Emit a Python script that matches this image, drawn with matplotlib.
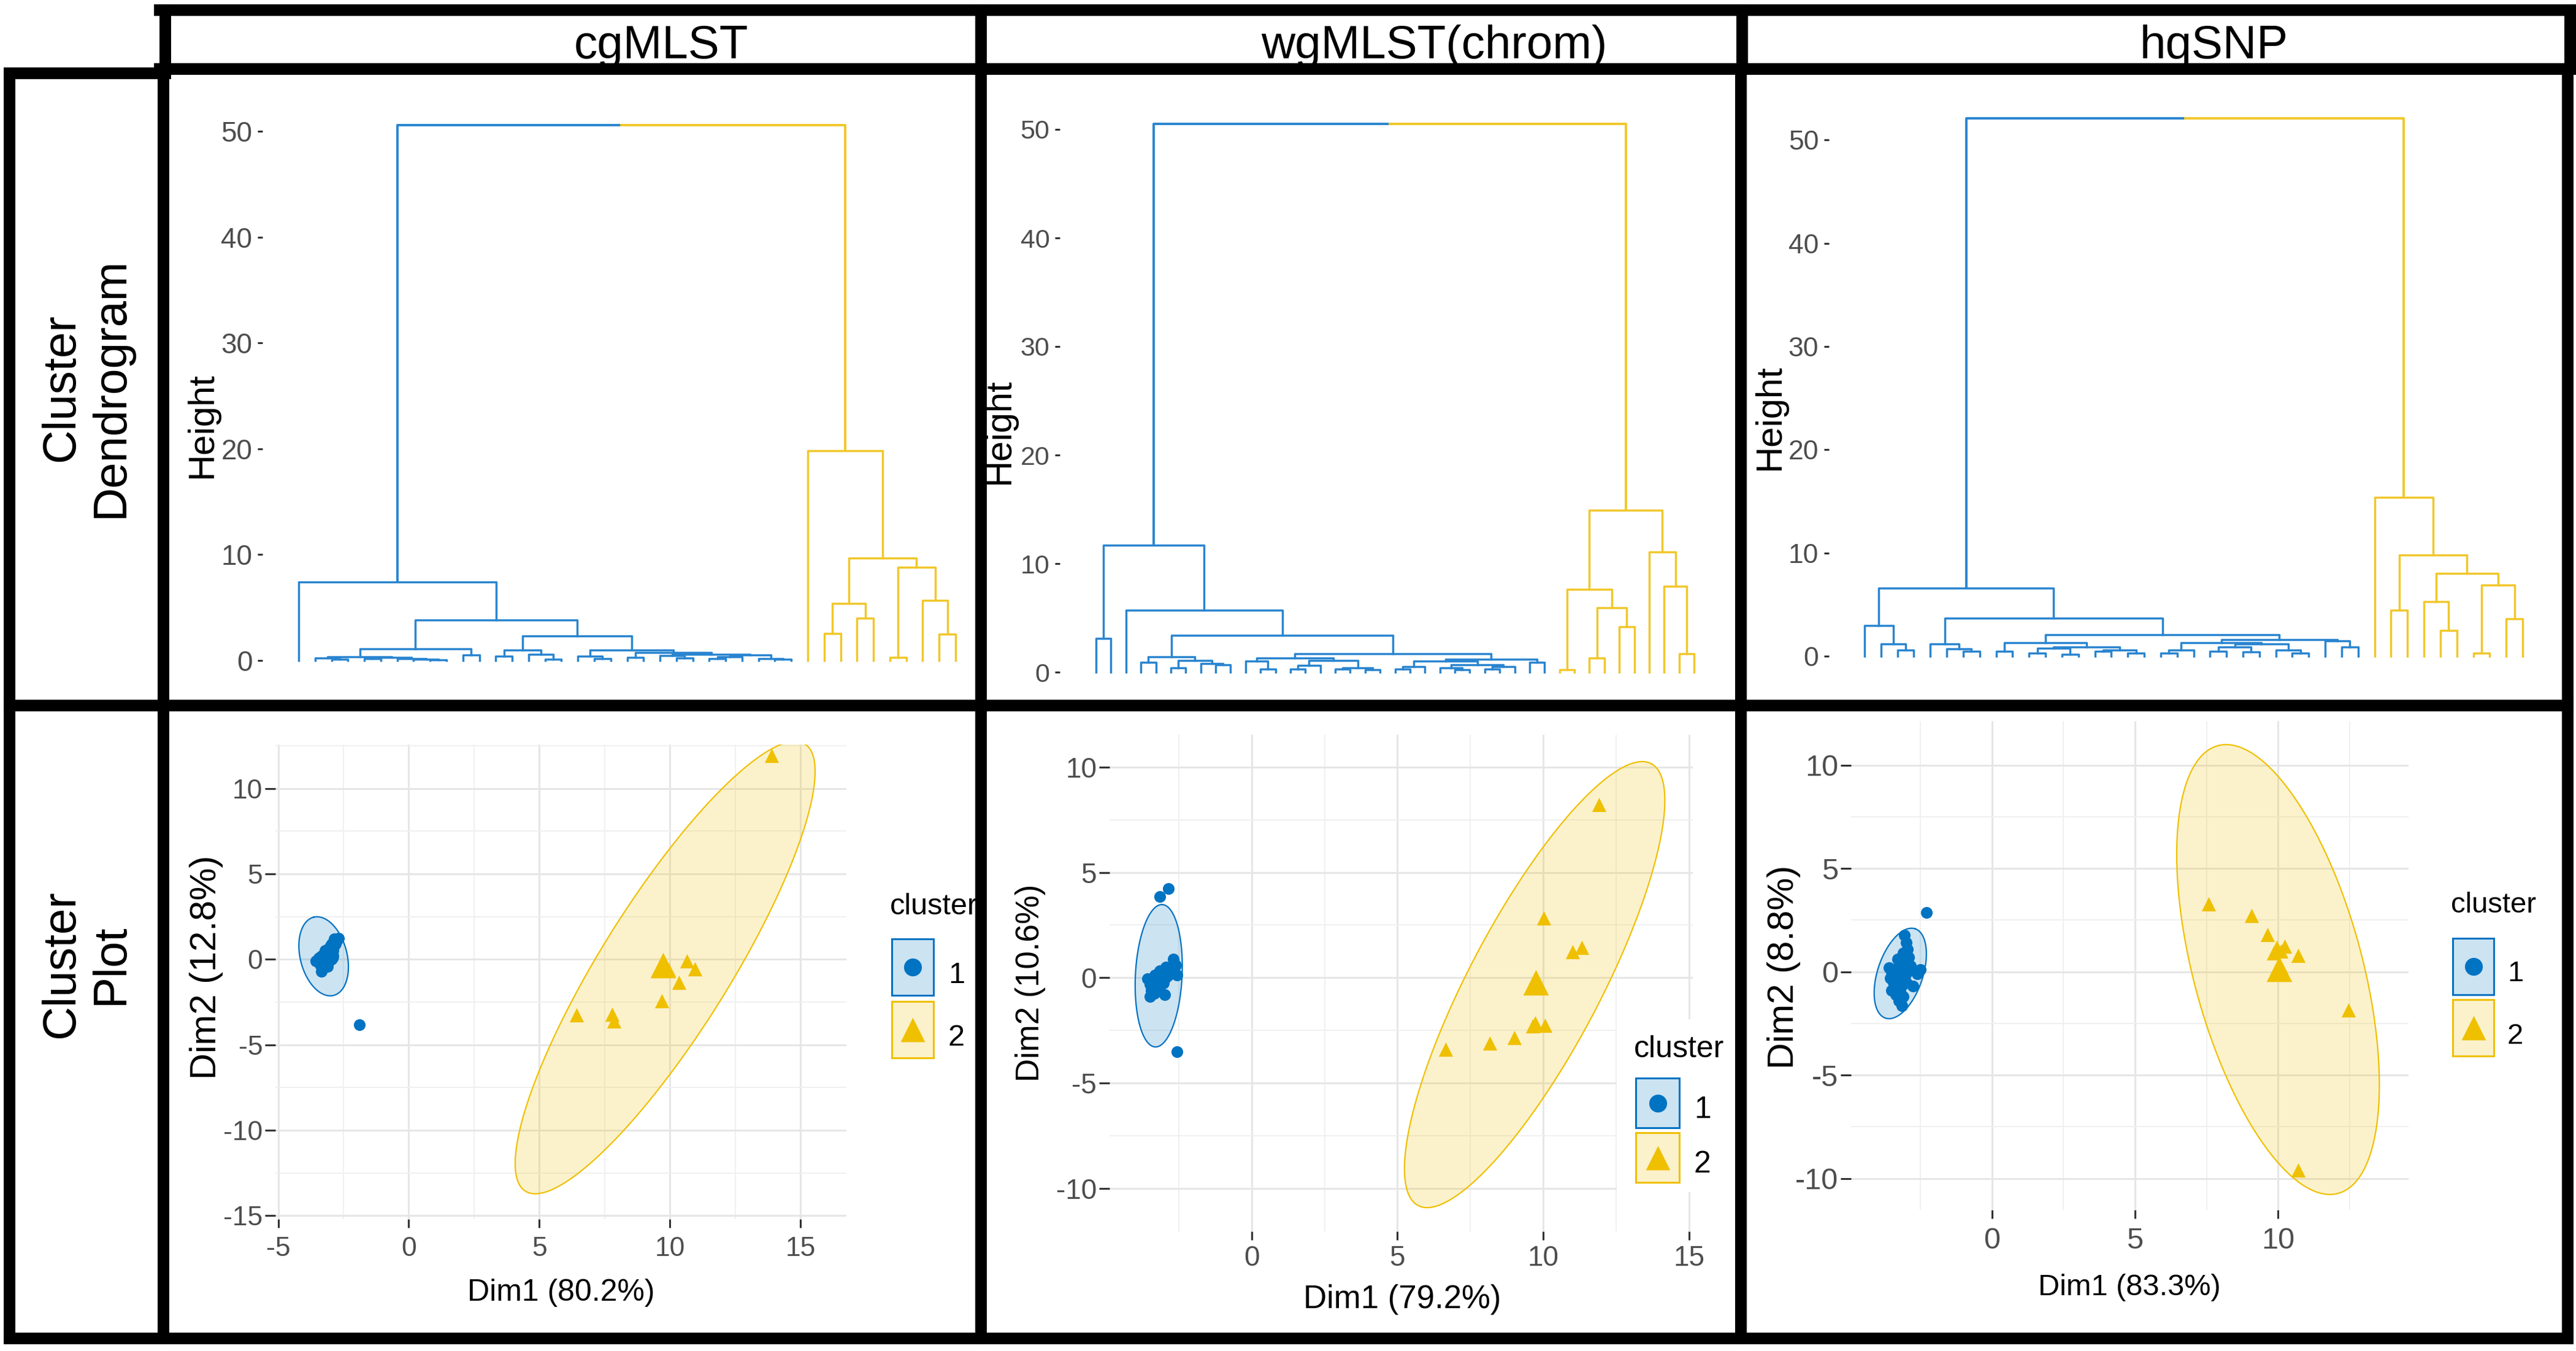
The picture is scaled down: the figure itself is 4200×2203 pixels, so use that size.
import numpy as np
import matplotlib.pyplot as plt
from matplotlib.patches import Rectangle

plt.rcParams['font.family'] = ['Liberation Sans', 'DejaVu Sans']
plt.rcParams['axes.unicode_minus'] = False

W, H = 4200, 2203
BLUE = '#0073C2'
YELLOW = '#EFC000'
DBLUE = '#2A85D0'
DYELLOW = '#F1C72A'
GREY = '#4D4D4D'

methods = ['cgMLST', 'wgMLST(chrom)', 'hqSNP']
row_labels = ['Cluster\nDendrogram', 'Cluster\nPlot']
dim1_pct = ['80.2', '79.2', '83.3']
dim2_pct = ['12.8', '10.6', '8.8']

# dendrograms: [height, left, right], 0 = leaf
cg_root = 50.6
cg_blue = [7.4, 0,
           [3.8,
            [1.1,
             [0.35, [0.25, 0, [0.1, 0, 0]],
              [0.3, [0.15, 0, 0], [0.2, 0, [0.1, 0, [0.05, 0, 0]]]]],
             [0.5, 0, 0]],
            [2.3,
             [1.0, [0.4, 0, 0], [0.6, 0, [0.1, 0, 0]]],
             [1.0, [0.4, 0, [0.2, 0, 0]],
              [0.75, [0.3, 0, 0],
               [0.6, [0.45, 0, [0.25, 0, 0]],
                [0.5, [0.35, [0.2, 0, 0], 0], [0.2, 0, [0.1, 0, 0]]]]]]]]]
cg_yellow = [19.8, 0,
             [9.7, [5.4, [2.55, 0, 0], [4.0, 0, 0]],
              [8.8, [0.3, 0, 0], [5.7, 0, [2.5, 0, 0]]]]]

wg_root = 50.5
wg_blue = [11.7, [3.1, 0, 0],
           [5.7, 0,
            [3.4,
             [1.4, [0.9, 0, 0], [1.1, [0.4, 0, 0], [0.8, 0, [0.7, 0, 0]]]],
             [1.7,
              [1.3, [1.0, 0, [0.3, 0, 0]],
               [1.1, [0.6, [0.3, 0, 0], 0], [0.4, [0.3, 0, 0], [0.2, 0, 0]]]],
              [1.2,
               [1.0, [0.5, [0.3, 0, 0], 0],
                [0.7, [0.4, 0, [0.2, 0, 0]], [0.5, [0.3, 0, 0], 0]]],
               [0.9, 0, 0]]]]]]
wg_yellow = [14.9,
             [7.65, [0.2, 0, 0], [5.96, [1.3, 0, 0], [4.2, 0, 0]]],
             [11.1, 0, [7.9, 0, [1.7, 0, 0]]]]

hq_root = 52.1
hq_blue = [6.6,
           [3.0, 0, [1.2, 0, [0.6, 0, 0]]],
           [3.7,
            [1.2, 0, [0.7, 0, [0.5, 0, 0]]],
            [2.1,
             [1.3, [0.5, 0, 0],
              [0.9, [0.8, [0.3, 0, 0], [0.2, 0, 0]], [0.6, [0.5, 0, 0], [0.3, 0, 0]]]],
             [1.6,
              [1.3, [0.6, [0.3, 0, 0], 0],
               [1.2, [0.9, [0.5, 0, 0], [0.4, 0, 0]], [0.6, 0, [0.3, 0, 0]]]],
              [1.5, 0, [0.9, 0, 0]]]]]]
hq_yellow = [15.4, 0,
             [9.8, [4.45, 0, 0],
              [8.0, [5.3, 0, [2.5, 0, 0]], [6.9, [0.3, 0, 0], [3.6, 0, 0]]]]]

# cluster plots
cg_x1 = [-3.55, -3.45, -3.40, -3.35, -3.35, -3.25, -3.20, -3.20, -3.15, -3.10, -3.10,
         -3.05, -3.00, -3.00, -2.95, -2.90, -2.90, -2.85, -2.80, -2.75, -2.70, -3.35,
         -3.30, -3.30, -3.00, -2.95, -3.20, -3.10, -3.05, -2.85, -1.90]
cg_y1 = [-0.10, 0.10, -0.30, 0.00, -0.70, 0.30, -0.20, 0.50, 0.20, 0.60, -0.40,
         0.40, 0.80, 0.10, 0.70, 1.00, 0.50, 1.20, 0.90, 1.10, 1.25, 0.20,
         -0.10, -0.55, 0.30, 0.90, 0.00, 0.20, 0.60, 0.80, -3.82]
cg_x2 = [13.90, 10.66, 10.97, 10.35, 9.68, 6.43, 7.80, 7.85, 9.70, 9.95]
cg_y2 = [11.93, -0.09, -0.55, -1.35, -2.43, -3.25, -3.20, -3.60, -0.20, -0.60]

wg_x1 = [-3.57, -3.49, -3.41, -3.32, -3.24, -3.15, -3.07, -2.99, -2.94, -2.82, -2.70,
         -2.60, -2.57, -3.50, -3.45, -3.38, -3.30, -3.20, -3.12, -3.05, -2.98, -2.90,
         -2.78, -2.66, -3.35, -3.18, -3.02, -2.88, -3.15, -2.85, -2.57]
wg_y1 = [-0.06, -0.89, -0.43, 0.13, -0.15, 0.32, 0.04, -0.80, 0.50, 0.22, 0.87,
         0.59, 0.13, -0.30, -0.60, -0.10, -0.35, 0.15, -0.20, 0.25, 0.05, 0.35,
         0.45, 0.70, -0.75, -0.50, -0.25, 0.10, 3.84, 4.22, -3.53]
wg_x2 = [11.91, 10.02, 11.02, 11.33, 9.73, 10.07, 9.01, 8.17, 6.66, 9.65]
wg_y2 = [8.21, 2.82, 1.24, 1.43, -2.14, -2.28, -2.84, -3.12, -3.40, -2.30]

hq_x1 = [-3.05, -3.00, -2.95, -3.10, -2.90, -3.30, -3.20, -3.60, -3.50, -3.40, -3.25,
         -3.15, -3.05, -2.95, -2.85, -2.49, -2.60, -3.55, -3.45, -3.35, -3.20, -3.10,
         -3.00, -3.50, -3.35, -3.20, -3.25, -3.10, -3.15, -2.75, -2.28]
hq_y1 = [1.76, 1.40, 1.10, 0.90, 0.70, 0.60, 0.40, 0.20, 0.00, 0.10, 0.20,
         0.00, -0.10, 0.20, 0.30, 0.11, -0.10, -0.30, -0.50, -0.40, -0.30, -0.60,
         -0.50, -0.90, -1.10, -0.90, -1.40, -1.20, -1.65, -0.70, 2.86]
hq_x2 = [7.58, 9.08, 9.64, 9.96, 10.24, 10.71, 12.45, 10.71, 10.10, 9.85]
hq_y2 = [3.27, 2.71, 1.80, 1.19, 1.23, 0.78, -1.84, -9.59, 1.00, 0.90]

# ellipses: centre, first and second conjugate semi-axis
cg_ell1 = [(-3.26, 0.18), (-0.38, 2.29), (0.87, 0.33)]
cg_ell2 = [(9.82, -0.48), (5.35, 13.09), (2.09, -1.99)]
wg_ell1 = [(-3.19, 0.09), (0.12, 3.38), (0.80, -0.05)]
wg_ell2 = [(9.71, -0.33), (4.00, 10.49), (1.99, -1.45)]
hq_ell1 = [(-3.20, -0.08), (0.52, 2.16), (0.75, -0.35)]
hq_ell2 = [(10.00, 0.11), (-2.10, 10.83), (2.85, 1.06)]

fig = plt.figure(figsize=(W / 100, H / 100), dpi=100)


def place(ax, box, xmap, ymap):
    left, right, top, bottom = box
    ax.set_position([left / W, 1 - bottom / H, (right - left) / W, (bottom - top) / H])
    (pa, va), (pb, vb) = xmap
    s = (vb - va) / (pb - pa)
    ax.set_xlim(va + (left - pa) * s, va + (right - pa) * s)
    (pa, va), (pb, vb) = ymap
    s = (vb - va) / (pb - pa)
    ax.set_ylim(va + (bottom - pa) * s, va + (top - pa) * s)


def draw_tree(ax, node, color, counter):
    if not isinstance(node, list):
        x = counter[0]
        counter[0] += 1
        return x, 0.0
    h, left, right = node
    xl, hl = draw_tree(ax, left, color, counter)
    xr, hr = draw_tree(ax, right, color, counter)
    ax.plot([xl, xl, xr, xr], [hl, h, h, hr], color=color, lw=2.5)
    return (xl + xr) / 2, h


dendros = [(cg_blue, cg_yellow, cg_root), (wg_blue, wg_yellow, wg_root),
           (hq_blue, hq_yellow, hq_root)]
d_boxes = [(428, 1580, 175, 1100), (1728, 2800, 175, 1120), (2982, 4150, 175, 1095)]
d_xmap = [((487, 0), (1558, 40)), ((1787, 0), (2762, 40)), ((3040, 0), (4113, 40))]
d_ymap = [((1077, 0), (214, 50)), ((1096, 0), (211, 50)), ((1070, 0), (228.4, 50))]
d_size = [33, 31, 32]

for i, (bt, yt, rh) in enumerate(dendros):
    ax = fig.add_axes([0, 0, 1, 1])
    counter = [0]
    xb, hb = draw_tree(ax, bt, DBLUE, counter)
    xy, hy = draw_tree(ax, yt, DYELLOW, counter)
    xm = (xb + xy) / 2
    ax.plot([xb, xb, xm], [hb, rh, rh], color=DBLUE, lw=2.8)
    ax.plot([xm, xy, xy], [rh, rh, hy], color=DYELLOW, lw=2.8)
    for s in ax.spines.values():
        s.set_visible(False)
    ax.set_xticks([])
    ax.set_yticks([0, 10, 20, 30, 40, 50])
    ax.tick_params(axis='y', length=6, width=2.2, color='#333333', pad=6,
                   labelsize=d_size[i], labelcolor=GREY)
    place(ax, d_boxes[i], d_xmap[i], d_ymap[i])

scatters = [(cg_x1, cg_y1, cg_x2, cg_y2, cg_ell1, cg_ell2),
            (wg_x1, wg_y1, wg_x2, wg_y2, wg_ell1, wg_ell2),
            (hq_x1, hq_y1, hq_x2, hq_y2, hq_ell1, hq_ell2)]
s_boxes = [(449, 1380, 1214, 1988), (1809, 2760, 1198, 2008), (3018, 3927, 1176, 1973)]
s_xmap = [((453.6, -5), (1305, 15)), ((2040.8, 0), (2753.5, 15)), ((3247.6, 0), (3714.2, 10))]
s_ymap = [((1285.8, 10), (1982.3, -15)), ((1250.8, 10), (1937.6, -10)),
          ((1247.6, 10), (1921.7, -10))]
s_xpad = [10, 6, 10]
s_size = [32, 33, 35]

t = np.linspace(0, 2 * np.pi, 300)
for i, (x1, y1, x2, y2, e1, e2) in enumerate(scatters):
    ax = fig.add_axes([0, 0, 1, 1])
    ax.set_facecolor('white')
    for s in ax.spines.values():
        s.set_visible(False)
    ax.set_axisbelow(True)
    ax.set_xticks(np.arange(-15, 25, 5))
    ax.set_yticks(np.arange(-15, 25, 5))
    ax.set_xticks(np.arange(-17.5, 25, 5), minor=True)
    ax.set_yticks(np.arange(-17.5, 25, 5), minor=True)
    ax.grid(which='major', color='#E6E6E6', lw=2.2)
    ax.grid(which='minor', color='#F0F0F0', lw=1.4)
    ax.tick_params(which='minor', length=0)
    ax.tick_params(axis='x', which='major', length=10, width=2.2, color='#333333',
                   pad=s_xpad[i], labelsize=s_size[i], labelcolor=GREY)
    ax.tick_params(axis='y', which='major', length=12, width=2.2, color='#333333',
                   pad=3, labelsize=s_size[i], labelcolor=GREY)
    for (c, u, v), col in ((e1, BLUE), (e2, YELLOW)):
        ex = c[0] + u[0] * np.cos(t) + v[0] * np.sin(t)
        ey = c[1] + u[1] * np.cos(t) + v[1] * np.sin(t)
        ax.fill(ex, ey, color=col, alpha=0.2, lw=0, zorder=2)
        ax.plot(ex, ey, color=col, lw=1.6, zorder=2)
    ax.scatter(x1, y1, s=190, marker='o', color=BLUE, lw=0, zorder=3)
    ax.scatter(x2, y2, s=280, marker='^', color=YELLOW, lw=0, zorder=3)
    ax.scatter([np.mean(x1)], [np.mean(y1)], s=560, marker='o', color=BLUE, lw=0, zorder=3)
    ax.scatter([np.mean(x2)], [np.mean(y2)], s=900, marker='^', color=YELLOW, lw=0, zorder=3)
    place(ax, s_boxes[i], s_xmap[i], s_ymap[i])

# overlay in pixel coordinates: frame, titles, labels, legends
fr = fig.add_axes([0, 0, 1, 1], zorder=10)
fr.set_xlim(0, W)
fr.set_ylim(H, 0)
fr.axis('off')

# white legend background that covers the wgMLST grid
fr.add_patch(Rectangle((2636, 1662), 200, 282, facecolor='white', edgecolor='none', zorder=1))

legends = [((1451, 1491), 1454, 68, (1531, 1633), 92, 1546, (1603, 1705), 35),
           ((2664, 1724), 2667, 71, (1758, 1847), 81, 2762, (1823, 1912), 36),
           ((3996, 1488), 3999, 67, (1530, 1630), 92, 4088, (1600, 1702), 34)]
for (tx, ty), bx, bw, tops, bh, lx, bases, fs in legends:
    fr.text(tx, ty, 'cluster', fontsize=fs, va='baseline', ha='left', color='black')
    for j, (col, mk, ms) in enumerate(((BLUE, 'o', 440), (YELLOW, '^', 820))):
        fr.add_patch(Rectangle((bx, tops[j]), bw, bh, facecolor=col, alpha=0.2,
                               edgecolor='none', zorder=2))
        fr.add_patch(Rectangle((bx, tops[j]), bw, bh, facecolor='none',
                               edgecolor=col, lw=2.2, zorder=3))
        fr.scatter([bx + bw / 2], [tops[j] + bh / 2], s=ms, marker=mk, color=col,
                   lw=0, zorder=4)
        fr.text(lx, bases[j], str(j + 1), fontsize=fs, va='baseline', ha='left',
                color='black')

# column headers and row labels
for name, x in zip(methods, [1078, 2338, 3610]):
    fr.text(x, 95, name, fontsize=55, ha='center', va='baseline')
for lab, y in zip(row_labels, [632, 1572]):
    fr.text(141, y, lab, fontsize=55, ha='center', va='center', rotation=90,
            linespacing=1.17, multialignment='center')

# axis titles
for x, y in [(330, 694), (1630, 704), (2886, 681)]:
    fr.text(x, y, 'Height', fontsize=43, rotation=90, ha='center', va='center')
for i, (x, y) in enumerate([(915, 2108), (2286, 2119), (3472, 2100)]):
    fr.text(x, y, 'Dim1 (' + dim1_pct[i] + '%)', fontsize=[36, 38, 35][i],
            ha='center', va='center')
for i, (x, y) in enumerate([(337, 1577), (1680, 1603), (2909, 1577)]):
    fr.text(x, y, 'Dim2 (' + dim2_pct[i] + '%)', fontsize=[43, 38, 43][i],
            rotation=90, ha='center', va='center')

# black frame
LWF = 13.7
segs = [((260, 16), (4200, 16)), ((260, 112), (4200, 112)),
        ((269, 16), (269, 112)), ((1599, 16), (1599, 112)),
        ((2840, 16), (2840, 112)), ((4190, 16), (4190, 112)),
        ((15, 119), (15, 2182)), ((15, 119), (269, 119)),
        ((266, 112), (266, 2182)), ((15, 1150), (4186, 1150)),
        ((15, 2182), (4186, 2182)), ((4186, 112), (4186, 2182)),
        ((1599, 112), (1599, 2182)), ((2838, 112), (2838, 2182))]
for (xa, ya), (xb, yb) in segs:
    fr.plot([xa, xb], [ya, yb], color='black', lw=LWF, solid_capstyle='projecting',
            zorder=5)

fig.savefig('out.png', dpi=100, facecolor='white')
